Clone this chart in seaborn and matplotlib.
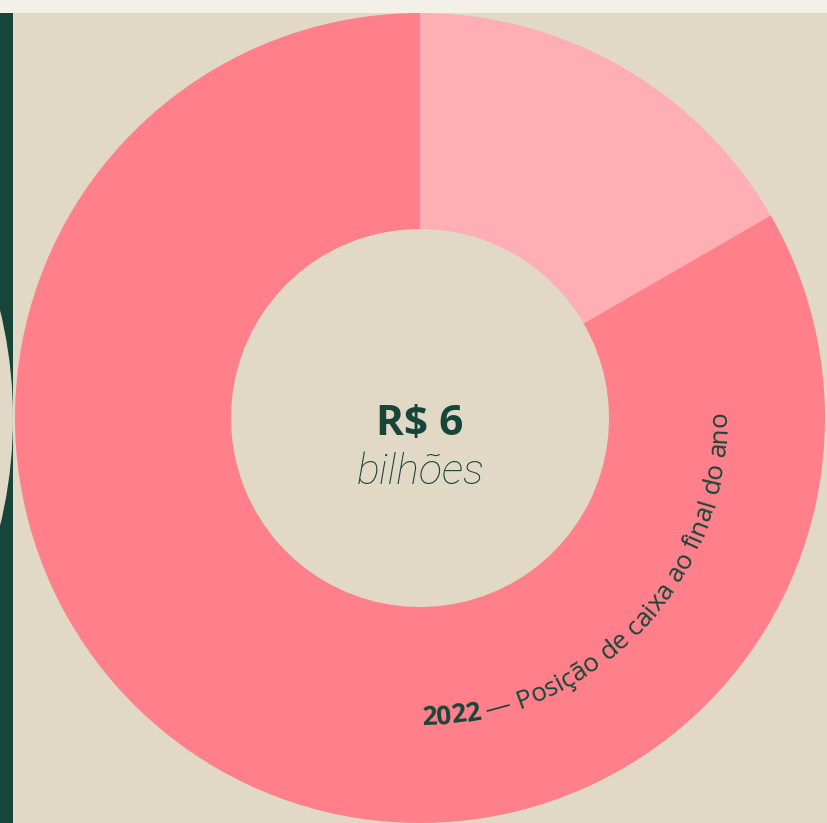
import numpy as np
import matplotlib
matplotlib.use("Agg")
import matplotlib.pyplot as plt
import seaborn as sns
from matplotlib.patches import Rectangle, Circle
from matplotlib.font_manager import FontProperties

# data
slice_labels = ["destaque", "restante"]
slice_values = [1.0, 5.0]
center_value = "R$ 6"
center_unit = "bilhões"
arc_year = "2022"
arc_caption = " — Posição de caixa ao final do ano"

# colours
bg = "#E1D8C6"
top_strip = "#F3EFE9"
green = "#17453A"
light_pink = "#FFAEB4"
dark_pink = "#FF7F8A"

sns.set_style("white")
plt.rcParams['font.family'] = ['Open Sans', 'DejaVu Sans']
colors = sns.color_palette([light_pink, dark_pink])

W, H = 827, 823
fig = plt.figure(figsize=(W / 100, H / 100), dpi=100)
fig.patch.set_facecolor(bg)
ax = fig.add_axes([0, 0, 1, 1])
ax.set_facecolor(bg)

cx, cy = 420, H - 418
R_out, R_in = 405, 189

ax.pie(slice_values, colors=colors, startangle=90, counterclock=False,
       radius=R_out, center=(cx, cy),
       wedgeprops=dict(width=R_out - R_in, linewidth=0))

# side decoration: dark bar with a beige circle, light strip at top
ax.add_patch(Rectangle((0, 0), 13, H, color=green, zorder=0.5, lw=0))
ax.add_patch(Circle((-442, cy), 455, color=bg, zorder=0.6, lw=0))
ax.add_patch(Rectangle((0, H - 13), W, 13, color=top_strip, zorder=10, lw=0))

ax.set_xlim(0, W)
ax.set_ylim(0, H)
ax.set_aspect('equal')
ax.axis('off')

# centre label
ax.text(cx, H - 435, center_value, ha='center', va='baseline',
        fontsize=30.5, fontweight='bold', color=green)
ax.text(cx + 1, H - 484, center_unit, ha='center', va='baseline',
        fontsize=31, fontstyle='italic', fontweight='light', color=green,
        family=['Roboto', 'Open Sans', 'DejaVu Sans'])

# curved caption along the ring
renderer = fig.canvas.get_renderer()


def text_width(s, fp):
    t = fig.text(0, 0, "|" + s + "|", fontproperties=fp)
    w1 = t.get_window_extent(renderer).width
    t.set_text("||")
    w0 = t.get_window_extent(renderer).width
    t.remove()
    return w1 - w0


r_text = 307
start_deg, end_deg = -89.6, 1.0

# pick the font size so the caption fills the arc
base = 10
total = (text_width(arc_year, FontProperties(family=['Open Sans'], weight='bold', size=base))
         + text_width(arc_caption, FontProperties(family=['Open Sans'], weight='normal', size=base)))
size = base * r_text * np.deg2rad(end_deg - start_deg) / total
fp_bold = FontProperties(family=['Open Sans', 'DejaVu Sans'], weight='bold', size=size)
fp_reg = FontProperties(family=['Open Sans', 'DejaVu Sans'], weight='normal', size=size)

theta = np.deg2rad(start_deg)
for segment, fp in [(arc_year, fp_bold), (arc_caption, fp_reg)]:
    for i, ch in enumerate(segment):
        before = text_width(segment[:i], fp)
        after = text_width(segment[:i + 1], fp)
        w = after - before
        mid = theta + (w / 2) / r_text
        x = cx + r_text * np.cos(mid)
        y = cy + r_text * np.sin(mid)
        ax.text(x, y, ch, fontproperties=fp, color=green,
                rotation=np.rad2deg(mid) + 90, rotation_mode='anchor',
                ha='center', va='baseline')
        theta += w / r_text

fig.savefig("out.png", dpi=100, facecolor=bg)
